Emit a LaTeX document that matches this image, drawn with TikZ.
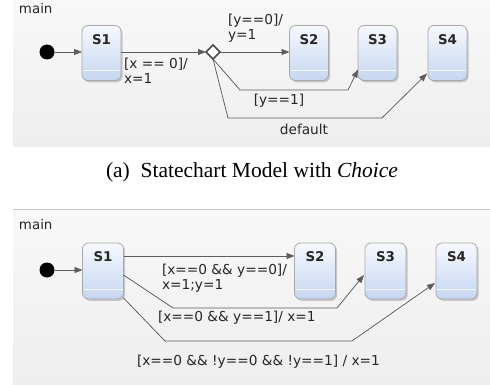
\documentclass[tikz,border=0pt]{standalone}
\usepackage{fontspec}
\setmainfont{DejaVu Sans}
\newfontfamily\capfont{Liberation Serif}
\usetikzlibrary{arrows.meta,shadows,shapes.geometric,calc}

\definecolor{panelA}{HTML}{F8F8F8}
\definecolor{panelB}{HTML}{EEEEEE}
\definecolor{panelline}{HTML}{C8C8C8}
\definecolor{boxtop}{HTML}{F6F9FE}
\definecolor{boxbot}{HTML}{C6D6F0}
\definecolor{boxline}{HTML}{A9A9A9}
\definecolor{wire}{HTML}{5C5C5C}
\definecolor{txt}{HTML}{262626}

\begin{document}
\begin{tikzpicture}[x=1pt,y=-1pt,
  every node/.style={inner sep=0pt, outer sep=0pt},
  lbl/.style={font=\fontsize{13.7}{16.5}\selectfont, text=txt, anchor=west, align=left},
  statebox/.style={draw=boxline, line width=0.8pt, rounded corners=6pt,
    top color=boxtop, bottom color=boxbot, minimum width=39pt, minimum height=55pt,
    drop shadow={shadow xshift=1.6pt, shadow yshift=-1.8pt, opacity=0.35, fill=black!55}},
  statename/.style={font=\bfseries\fontsize{13.4}{15}\selectfont, text=black!85},
  initdot/.style={circle, fill=black, minimum size=15pt},
  choicept/.style={diamond, draw=wire!80!black, line width=1.7pt, fill=white, minimum size=14pt},
  tr/.style={draw=wire, line width=0.75pt, -{Triangle[length=8pt,width=6pt]}},
]
\useasboundingbox (0,0) rectangle (490,385);

% panel backgrounds
\fill[top color=panelA, bottom color=panelB] (13,0) rectangle (490,147);
\fill[top color=panelA, bottom color=panelB] (13,209) rectangle (490,385);
\draw[panelline, line width=0.8pt] (13,209) -- (490,209);

% ---------- upper chart: choice pseudo-state ----------
\node[font=\fontsize{13.4}{16}\selectfont, text=txt, anchor=west] (mainA) at (19,9) {main};
\node[initdot] (iA) at (47,52) {};
\node[statebox] (a1) at (101.5,53) {};
\node[statebox] (a2) at (309,53) {};
\node[statebox] (a3) at (377.5,53) {};
\node[statebox] (a4) at (447.5,53) {};
\node[choicept] (ch) at (213,52) {};

\foreach \s/\t in {a1/S1,a2/S2,a3/S3,a4/S4}{
  \draw[white!80!boxbot, line width=0.8pt]
    ($(\s.south west)+(1,-10)$) -- ($(\s.south east)+(-1,-10)$);
  \node[statename] (\s name) at ($(\s.north)+(0,14)$) {\t};
}

\draw[tr] (iA) -- (a1.west |- iA);
\draw[tr] (a1.east |- ch) -- (ch.west);
\draw[tr] (ch.east) -- (a2.west |- ch);
\draw[tr] (ch.south) -- (240,90) -- (348,90) -- ($(a3.south west)+(0,-11)$);
\draw[tr] (ch.south) -- (228,118) -- (382,118) -- ($(a4.south west)+(-1,-7)$);

\node[lbl] (ga) at (124,71) {[x == 0]/\\[-1pt]x=1};
\node[lbl] (gb) at (228,28) {[y==0]/\\[-1pt]y=1};
\node[lbl, anchor=center] (gc) at (279,101) {[y==1]};
\node[lbl, anchor=center] (gd) at (304,129) {default};

\node[font=\capfont\fontsize{21.5}{24}\selectfont, text=black] (capA) at (252,172)
  {(a)\ \ Statechart Model with \textit{Choice}};

% ---------- lower chart: guards on direct transitions ----------
\node[font=\fontsize{13.4}{16}\selectfont, text=txt, anchor=west] (mainB) at (19,225) {main};
\node[initdot] (iB) at (47,270) {};
\node[statebox, minimum width=41pt, minimum height=56pt] (b1) at (103,271) {};
\node[statebox, minimum width=41pt, minimum height=56pt] (b2) at (315,271) {};
\node[statebox, minimum width=41pt, minimum height=56pt] (b3) at (385.5,271) {};
\node[statebox, minimum width=41pt, minimum height=56pt] (b4) at (456.5,271) {};

\foreach \s/\t in {b1/S1,b2/S2,b3/S3,b4/S4}{
  \draw[white!80!boxbot, line width=0.8pt]
    ($(\s.south west)+(1,-10)$) -- ($(\s.south east)+(-1,-10)$);
  \node[statename] (\s name) at ($(\s.north)+(0,14)$) {\t};
}

\draw[tr] (iB) -- (b1.west |- iB);
\draw[tr] ($(b1.north east)+(0,13)$) -- ($(b2.north west)+(0,13)$);
\draw[tr] ($(b1.east)+(0,4)$) -- (173,308) -- (337,308) -- ($(b3.west)+(-1,4)$);
\draw[tr] ($(b1.south east)+(0,-1)$) -- (165,341) -- (352,341) -- ($(b4.west)+(-1,12)$);

\node[lbl] (ha) at (162,278) {[x==0 \&\& y==0]/\\[-1pt]x=1;y=1};
\node[lbl] (hb) at (158,318) {[x==0 \&\& y==1]/ x=1};
\node[lbl] (hc) at (137,362) {[x==0 \&\& !y==0 \&\& !y==1] / x=1};
\end{tikzpicture}
\end{document}
